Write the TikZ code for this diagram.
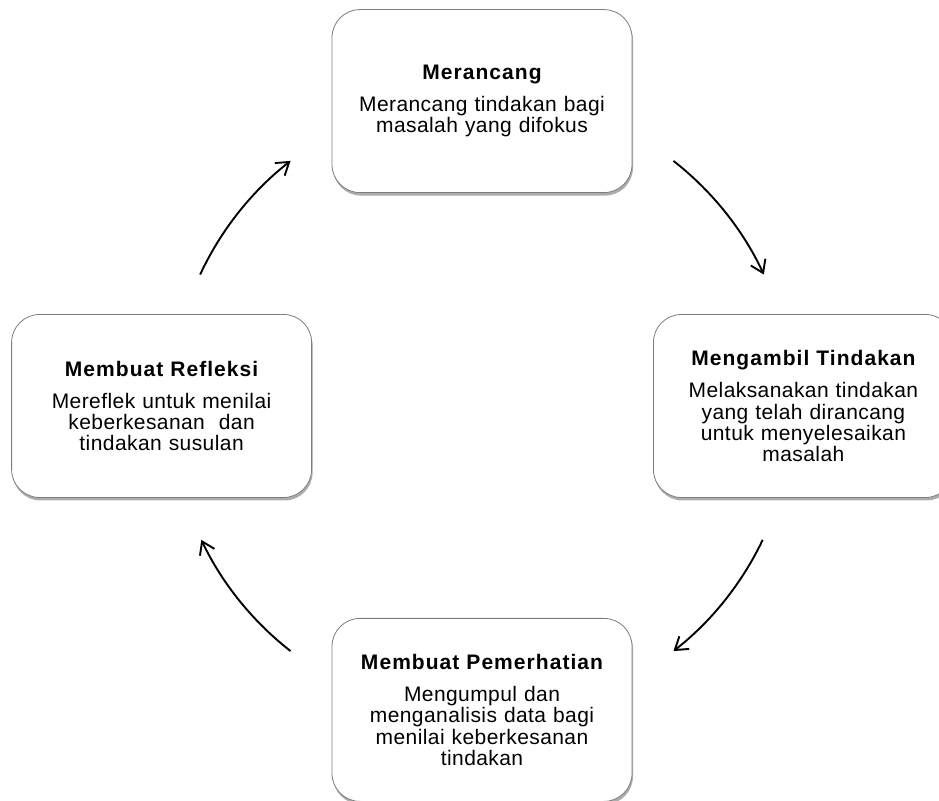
\documentclass[tikz,border=0pt]{standalone}
\usepackage{fontspec}
\setmainfont{Liberation Sans}[LetterSpace=2]
\newfontfamily\headfont{Liberation Sans}[LetterSpace=5]
\definecolor{boxline}{RGB}{125,125,125}
\definecolor{shadowcolor}{RGB}{90,90,90}
\usetikzlibrary{arrows.meta, positioning, shadows}

\begin{document}
\begin{tikzpicture}[x=1pt, y=1pt,
    stage/.style={draw=boxline, line width=0.8pt, fill=white, rounded corners=28pt,
      minimum width=300pt, minimum height=183pt, text width=284pt, inner sep=8pt,
      align=center, font=\fontsize{21}{21.3}\selectfont,
      drop shadow={shadow xshift=1pt, shadow yshift=-3pt, fill=shadowcolor, opacity=0.5}},
    flow/.style={-{Straight Barb[length=12pt, width=16pt]}, line width=1.9pt}]
  \useasboundingbox (0,0) rectangle (939,800);
  \coordinate (hub) at (482,394);
  % the four stages round the hub
  \node[stage, above=213pt of hub] (plan) {{\headfont\bfseries Merancang}\\[11pt]
    Merancang tindakan bagi\\ masalah yang difokus};
  \node[stage, right=171pt of hub] (act) {{\headfont\bfseries Mengambil Tindakan}\\[11pt]
    Melaksanakan tindakan\\ yang telah dirancang\\ untuk menyelesaikan\\ masalah};
  \node[stage, below=212pt of hub] (observe) {{\headfont\bfseries Membuat Pemerhatian}\\[11pt]
    Mengumpul dan\\ menganalisis data bagi\\ menilai keberkesanan\\ tindakan};
  \node[stage, left=170pt of hub] (reflect) {{\headfont\bfseries Membuat Refleksi}\\[11pt]
    Mereflek untuk menilai\\ keberkesanan\ \ dan\\ tindakan susulan};
  % arrows on the circle
  \draw[flow] ([shift={(155:311pt)}]hub) arc[start angle=155, end angle=128, radius=311pt];
  \draw[flow] ([shift={(52:311pt)}]hub) arc[start angle=52, end angle=25, radius=311pt];
  \draw[flow] ([shift={(-25.5:311pt)}]hub) arc[start angle=-25.5, end angle=-52, radius=311pt];
  \draw[flow] ([shift={(-128:311pt)}]hub) arc[start angle=-128, end angle=-154.5, radius=311pt];
\end{tikzpicture}
\end{document}
